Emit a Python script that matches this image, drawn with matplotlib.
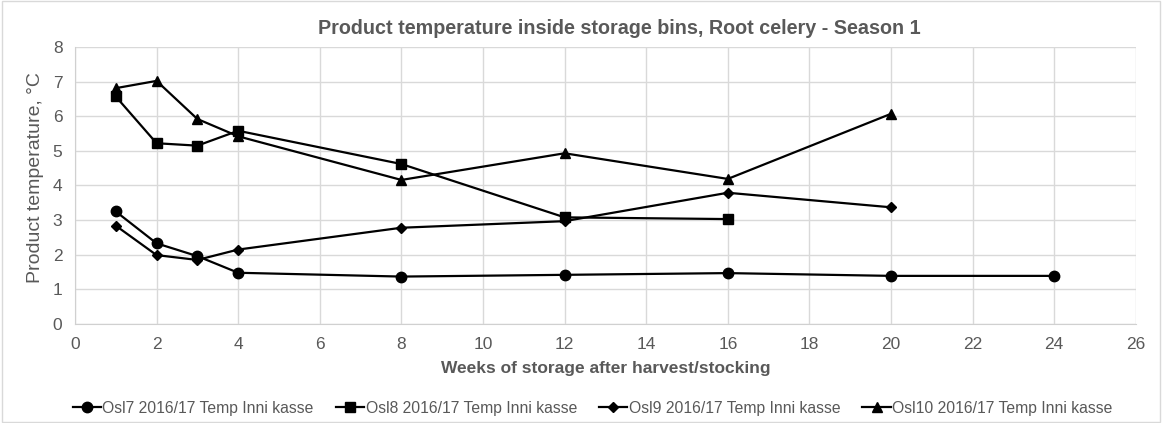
import matplotlib
matplotlib.use("Agg")
import matplotlib.pyplot as plt

plt.rcParams['font.family'] = ['Liberation Sans', 'DejaVu Sans']

# Data
weeks_osl7 = [1, 2, 3, 4, 8, 12, 16, 20, 24]
temp_osl7 = [3.25, 2.33, 1.96, 1.48, 1.37, 1.42, 1.47, 1.39, 1.39]

weeks_osl8 = [1, 2, 3, 4, 8, 12, 16]
temp_osl8 = [6.57, 5.22, 5.15, 5.58, 4.62, 3.08, 3.03]

weeks_osl9 = [1, 2, 3, 4, 8, 12, 16, 20]
temp_osl9 = [2.84, 1.99, 1.85, 2.15, 2.78, 2.97, 3.79, 3.37]

weeks_osl10 = [1, 2, 3, 4, 8, 12, 16, 20]
temp_osl10 = [6.81, 7.02, 5.92, 5.42, 4.16, 4.93, 4.19, 6.07]

labels = ["Osl7 2016/17 Temp Inni kasse", "Osl8 2016/17 Temp Inni kasse",
          "Osl9 2016/17 Temp Inni kasse", "Osl10 2016/17 Temp Inni kasse"]

fig = plt.figure(figsize=(11.62, 4.23), dpi=100)
ax = fig.add_axes([0.0645, 0.234, 0.913, 0.655])

grey = '#595959'
ax.plot(weeks_osl7, temp_osl7, color='black', marker='o', markersize=7.5, lw=1.6, label=labels[0])
ax.plot(weeks_osl8, temp_osl8, color='black', marker='s', markersize=7.5, lw=1.6, label=labels[1])
ax.plot(weeks_osl9, temp_osl9, color='black', marker='D', markersize=5.5, lw=1.6, label=labels[2])
ax.plot(weeks_osl10, temp_osl10, color='black', marker='^', markersize=7.5, lw=1.6, label=labels[3])

ax.set_xlim(0, 26)
ax.set_ylim(0, 8)
ax.set_xticks(range(0, 27, 2))
ax.set_yticks(range(0, 9))
ax.grid(True, color='#d9d9d9', lw=1)
ax.set_axisbelow(True)
for s in ['top', 'right']:
    ax.spines[s].set_visible(False)
for s in ['left', 'bottom']:
    ax.spines[s].set_color('#d0d0d0')
ax.tick_params(length=0, colors=grey, labelsize=12.5, pad=9)

ax.set_title("Product temperature inside storage bins, Root celery - Season 1",
             fontsize=14.2, fontweight='bold', color=grey, pad=9, x=0.513)
ax.set_xlabel("Weeks of storage after harvest/stocking", fontsize=12.5, fontweight='bold',
              color=grey, labelpad=7)
ax.set_ylabel("Product temperature, °C", fontsize=14, color=grey, labelpad=6, y=0.53)

fig.legend(loc='center', bbox_to_anchor=(0.51, 0.035), ncol=4, frameon=False,
           fontsize=11.3, labelcolor=grey, handlelength=1.8, handletextpad=0.1,
           columnspacing=1.4, borderaxespad=0)

fig.patches.append(plt.Rectangle((0.002, 0.002), 0.996, 0.996, transform=fig.transFigure,
                                 fill=False, edgecolor='#d9d9d9', lw=1))

fig.savefig("out.png", dpi=100)
